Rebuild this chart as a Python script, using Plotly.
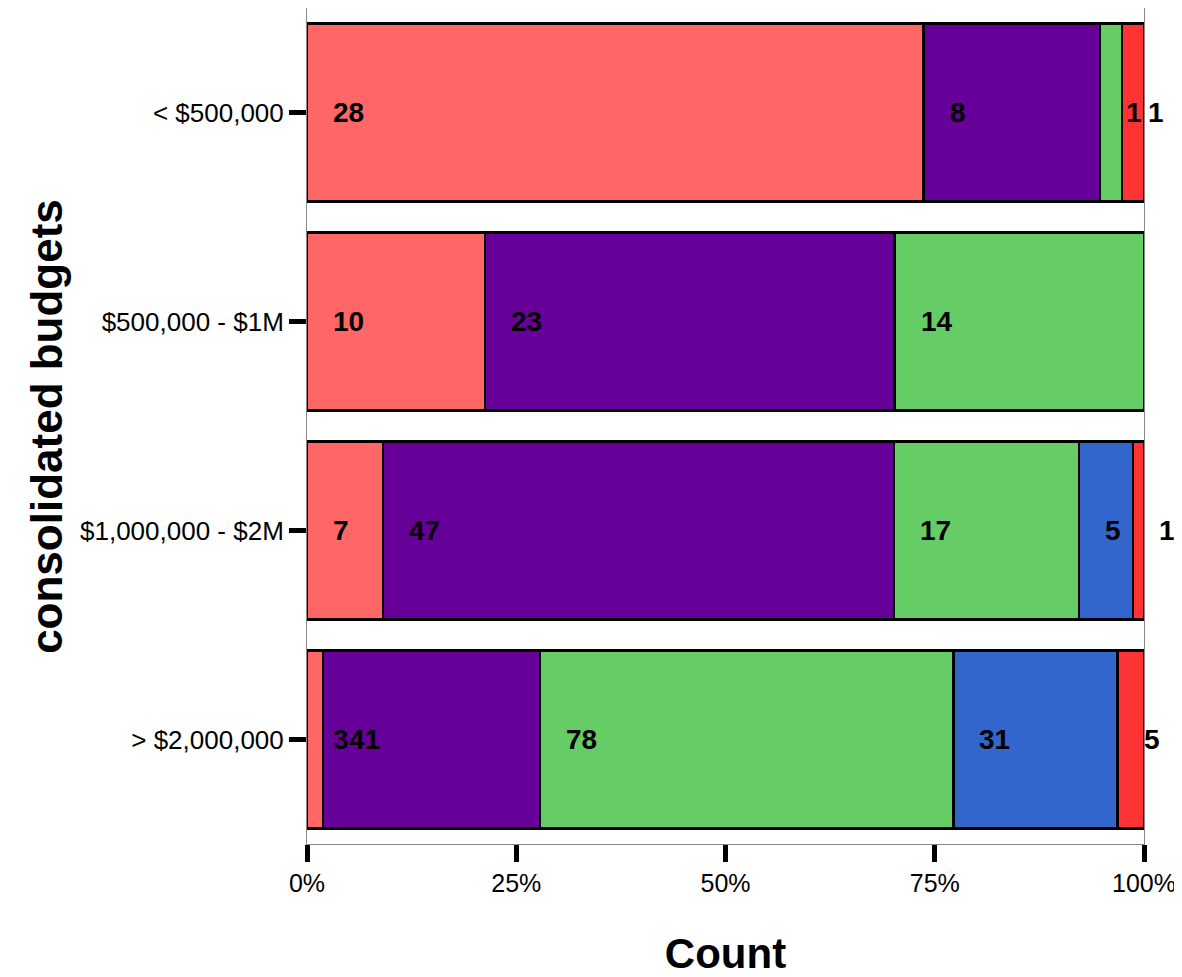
import plotly.graph_objects as go

budgets = ["< $500,000", "$500,000 - $1M", "$1,000,000 - $2M", "> $2,000,000"]
series_names = ["Group 1", "Group 2", "Group 3", "Group 4", "Group 5"]
group1 = [28, 10, 7, 3]
group2 = [8, 23, 47, 41]
group3 = [1, 14, 17, 78]
group4 = [0, 0, 5, 31]
group5 = [1, 0, 1, 5]
colors = ["#FF6666", "#660099", "#66CC66", "#3366CC", "#FF3333"]
x_tick_vals = [0, 0.25, 0.5, 0.75, 1.0]
x_tick_text = ["0%", "25%", "50%", "75%", "100%"]

series = [group1, group2, group3, group4, group5]
totals = [sum(s[i] for s in series) for i in range(len(budgets))]

FONT = "Liberation Sans, Arial, sans-serif"

fig = go.Figure()
for name, vals, col in zip(series_names, series, colors):
    fig.add_trace(go.Bar(
        y=budgets, x=[v if v > 0 else None for v in vals], name=name,
        orientation="h", marker=dict(color=col, line=dict(color="black", width=2.5)),
        showlegend=False, hoverinfo="skip",
    ))

# labels, left-aligned near the start of each segment
annotations = []
for i, b in enumerate(budgets):
    cum = 0
    for vals in series:
        v = vals[i]
        if v > 0:
            annotations.append(dict(
                x=cum / totals[i], y=b, xref="x", yref="y", text="<b>%d</b>" % v,
                xanchor="left", yanchor="middle", xshift=24, showarrow=False,
                font=dict(family=FONT, size=28, color="black"),
            ))
        cum += v

# y-axis title
annotations.append(dict(
    x=-0.312, y=0.5, xref="paper", yref="paper", text="<b>consolidated budgets</b>",
    textangle=-90, xanchor="center", yanchor="middle", showarrow=False,
    font=dict(family=FONT, size=44, color="black"),
))

fig.update_layout(
    barmode="stack", barnorm="fraction", bargap=0.15,
    width=1174, height=969,
    margin=dict(l=299, r=38, t=0, b=133),
    paper_bgcolor="white", plot_bgcolor="white",
    font=dict(family=FONT, color="black"),
    annotations=annotations,
    xaxis=dict(
        range=[0, 1], tickvals=x_tick_vals, ticktext=x_tick_text,
        showgrid=False, zeroline=False,
        showline=True, mirror=True, linecolor="#888888", linewidth=1,
        ticks="outside", ticklen=17, tickwidth=5, tickcolor="black",
        tickfont=dict(size=25, color="black"),
        title=dict(text="<b>Count</b>", font=dict(size=42, color="black"), standoff=45),
        automargin=False,
    ),
    yaxis=dict(
        categoryorder="array", categoryarray=budgets, range=[3.5, -0.5],
        showgrid=False, zeroline=False,
        showline=True, mirror=True, linecolor="#888888", linewidth=1,
        ticks="outside", ticklen=17, tickwidth=5, tickcolor="black",
        tickfont=dict(size=26, color="black"),
        automargin=False,
    ),
)

fig.write_html("out.html")
